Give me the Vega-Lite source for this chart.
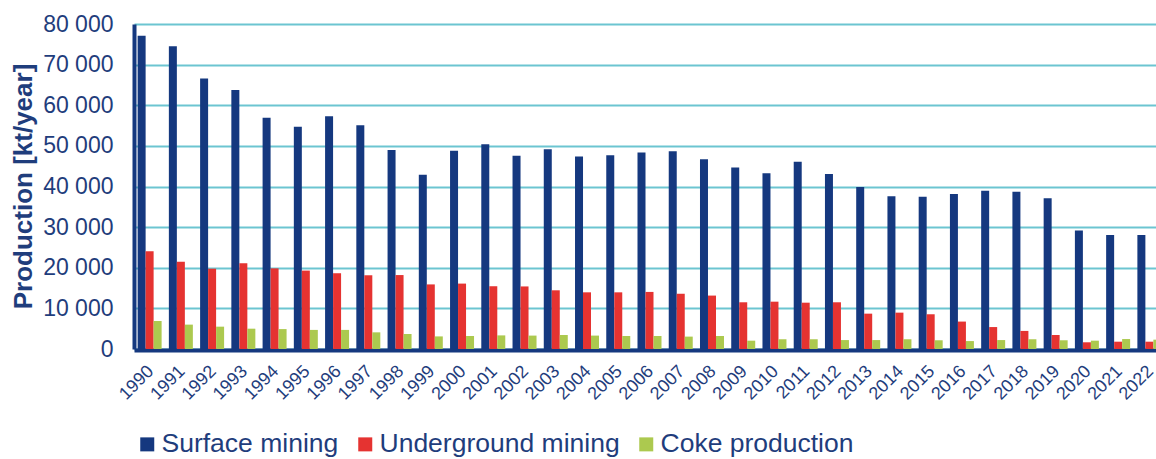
{
  "$schema": "https://vega.github.io/schema/vega-lite/v6.json",
  "autosize": {"type": "none"},
  "padding": {"left": 134, "top": 24, "right": 0, "bottom": 110},
  "width": 1022,
  "height": 325,
  "background": "white",
  "config": {
    "view": {"stroke": null},
    "font": "Liberation Sans"
  },
  "data": {
    "values": [
      {"year": "1990", "type": "Surface mining", "value": 77100},
      {"year": "1991", "type": "Surface mining", "value": 74500},
      {"year": "1992", "type": "Surface mining", "value": 66600},
      {"year": "1993", "type": "Surface mining", "value": 63750},
      {"year": "1994", "type": "Surface mining", "value": 56900},
      {"year": "1995", "type": "Surface mining", "value": 54700},
      {"year": "1996", "type": "Surface mining", "value": 57300},
      {"year": "1997", "type": "Surface mining", "value": 55100},
      {"year": "1998", "type": "Surface mining", "value": 49000},
      {"year": "1999", "type": "Surface mining", "value": 42900},
      {"year": "2000", "type": "Surface mining", "value": 48800},
      {"year": "2001", "type": "Surface mining", "value": 50400},
      {"year": "2002", "type": "Surface mining", "value": 47600},
      {"year": "2003", "type": "Surface mining", "value": 49150},
      {"year": "2004", "type": "Surface mining", "value": 47400},
      {"year": "2005", "type": "Surface mining", "value": 47700},
      {"year": "2006", "type": "Surface mining", "value": 48400},
      {"year": "2007", "type": "Surface mining", "value": 48650},
      {"year": "2008", "type": "Surface mining", "value": 46700},
      {"year": "2009", "type": "Surface mining", "value": 44700},
      {"year": "2010", "type": "Surface mining", "value": 43250},
      {"year": "2011", "type": "Surface mining", "value": 46100},
      {"year": "2012", "type": "Surface mining", "value": 43100},
      {"year": "2013", "type": "Surface mining", "value": 39900},
      {"year": "2014", "type": "Surface mining", "value": 37600},
      {"year": "2015", "type": "Surface mining", "value": 37500},
      {"year": "2016", "type": "Surface mining", "value": 38150},
      {"year": "2017", "type": "Surface mining", "value": 38950},
      {"year": "2018", "type": "Surface mining", "value": 38700},
      {"year": "2019", "type": "Surface mining", "value": 37100},
      {"year": "2020", "type": "Surface mining", "value": 29200},
      {"year": "2021", "type": "Surface mining", "value": 28050},
      {"year": "2022", "type": "Surface mining", "value": 28050},
      {"year": "1990", "type": "Underground mining", "value": 24050},
      {"year": "1991", "type": "Underground mining", "value": 21500},
      {"year": "1992", "type": "Underground mining", "value": 19770},
      {"year": "1993", "type": "Underground mining", "value": 21100},
      {"year": "1994", "type": "Underground mining", "value": 19850},
      {"year": "1995", "type": "Underground mining", "value": 19300},
      {"year": "1996", "type": "Underground mining", "value": 18650},
      {"year": "1997", "type": "Underground mining", "value": 18150},
      {"year": "1998", "type": "Underground mining", "value": 18200},
      {"year": "1999", "type": "Underground mining", "value": 15900},
      {"year": "2000", "type": "Underground mining", "value": 16100},
      {"year": "2001", "type": "Underground mining", "value": 15450},
      {"year": "2002", "type": "Underground mining", "value": 15400},
      {"year": "2003", "type": "Underground mining", "value": 14450},
      {"year": "2004", "type": "Underground mining", "value": 13950},
      {"year": "2005", "type": "Underground mining", "value": 13950},
      {"year": "2006", "type": "Underground mining", "value": 14050},
      {"year": "2007", "type": "Underground mining", "value": 13600},
      {"year": "2008", "type": "Underground mining", "value": 13150},
      {"year": "2009", "type": "Underground mining", "value": 11500},
      {"year": "2010", "type": "Underground mining", "value": 11650},
      {"year": "2011", "type": "Underground mining", "value": 11400},
      {"year": "2012", "type": "Underground mining", "value": 11500},
      {"year": "2013", "type": "Underground mining", "value": 8700},
      {"year": "2014", "type": "Underground mining", "value": 8950},
      {"year": "2015", "type": "Underground mining", "value": 8550},
      {"year": "2016", "type": "Underground mining", "value": 6750},
      {"year": "2017", "type": "Underground mining", "value": 5400},
      {"year": "2018", "type": "Underground mining", "value": 4450},
      {"year": "2019", "type": "Underground mining", "value": 3450},
      {"year": "2020", "type": "Underground mining", "value": 1650},
      {"year": "2021", "type": "Underground mining", "value": 1800},
      {"year": "2022", "type": "Underground mining", "value": 1800},
      {"year": "1990", "type": "Coke production", "value": 6900},
      {"year": "1991", "type": "Coke production", "value": 6000},
      {"year": "1992", "type": "Coke production", "value": 5500},
      {"year": "1993", "type": "Coke production", "value": 5000},
      {"year": "1994", "type": "Coke production", "value": 4900},
      {"year": "1995", "type": "Coke production", "value": 4700},
      {"year": "1996", "type": "Coke production", "value": 4700},
      {"year": "1997", "type": "Coke production", "value": 4100},
      {"year": "1998", "type": "Coke production", "value": 3700},
      {"year": "1999", "type": "Coke production", "value": 3100},
      {"year": "2000", "type": "Coke production", "value": 3200},
      {"year": "2001", "type": "Coke production", "value": 3350},
      {"year": "2002", "type": "Coke production", "value": 3300},
      {"year": "2003", "type": "Coke production", "value": 3450},
      {"year": "2004", "type": "Coke production", "value": 3300},
      {"year": "2005", "type": "Coke production", "value": 3200},
      {"year": "2006", "type": "Coke production", "value": 3200},
      {"year": "2007", "type": "Coke production", "value": 3050},
      {"year": "2008", "type": "Coke production", "value": 3200},
      {"year": "2009", "type": "Coke production", "value": 2050},
      {"year": "2010", "type": "Coke production", "value": 2400},
      {"year": "2011", "type": "Coke production", "value": 2400},
      {"year": "2012", "type": "Coke production", "value": 2200},
      {"year": "2013", "type": "Coke production", "value": 2200},
      {"year": "2014", "type": "Coke production", "value": 2400},
      {"year": "2015", "type": "Coke production", "value": 2150},
      {"year": "2016", "type": "Coke production", "value": 1950},
      {"year": "2017", "type": "Coke production", "value": 2200},
      {"year": "2018", "type": "Coke production", "value": 2400},
      {"year": "2019", "type": "Coke production", "value": 2150},
      {"year": "2020", "type": "Coke production", "value": 2050},
      {"year": "2021", "type": "Coke production", "value": 2450},
      {"year": "2022", "type": "Coke production", "value": 2300}
    ]
  },
  "mark": {"type": "bar"},
  "encoding": {
    "x": {
      "field": "year",
      "type": "nominal",
      "sort": null,
      "scale": {"range": [0, 1031], "paddingInner": 0.232, "paddingOuter": 0.116},
      "axis": {
        "title": null,
        "labelAngle": -45,
        "labelFontSize": 18,
        "labelColor": "#1F3D7C",
        "labelPadding": 12,
        "labelOffset": -5,
        "ticks": false,
        "domainColor": "#15387F",
        "domainWidth": 4,
        "offset": 1,
        "grid": false
      }
    },
    "xOffset": {
      "field": "type",
      "type": "nominal",
      "sort": ["Surface mining", "Underground mining", "Coke production"],
      "scale": {"paddingInner": 0, "paddingOuter": 0}
    },
    "y": {
      "field": "value",
      "type": "quantitative",
      "scale": {"domain": [0, 80000], "nice": false},
      "axis": {
        "title": "Production [kt/year]",
        "titleFontSize": 26,
        "titleFontWeight": "bold",
        "titleColor": "#1F3D7C",
        "titleAngle": -90,
        "titleX": -111,
        "titleY": 162,
        "titleAlign": "center",
        "titleBaseline": "middle",
        "values": [0, 10000, 20000, 30000, 40000, 50000, 60000, 70000, 80000],
        "labelExpr": "replace(format(datum.value, ','), ',', ' ')",
        "labelFontSize": 23,
        "labelColor": "#1F3D7C",
        "labelPadding": 21,
        "ticks": false,
        "domainColor": "#15387F",
        "domainWidth": 4,
        "gridColor": "#6CC5D1",
        "gridWidth": 2
      }
    },
    "color": {
      "field": "type",
      "type": "nominal",
      "sort": ["Surface mining", "Underground mining", "Coke production"],
      "scale": {
        "domain": ["Surface mining", "Underground mining", "Coke production"],
        "range": ["#15387F", "#E53331", "#ACC94F"]
      },
      "legend": {
        "title": null,
        "orient": "none",
        "legendX": 0,
        "legendY": 407,
        "direction": "horizontal",
        "columns": 3,
        "padding": 0,
        "symbolType": "square",
        "symbolSize": 196,
        "symbolStrokeWidth": 0,
        "symbolOpacity": 1,
        "labelFontSize": 26.5,
        "labelColor": "#1F3D7C",
        "labelOffset": 1,
        "columnPadding": 13,
        "labelLimit": 400
      }
    }
  }
}
